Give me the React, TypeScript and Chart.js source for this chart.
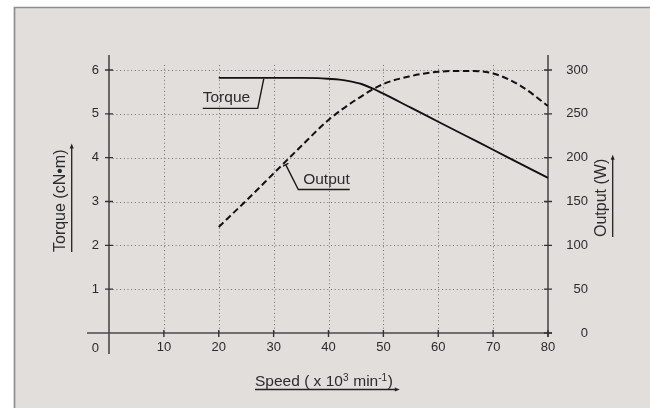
import React, { useEffect, useRef } from "react";
import { Chart, registerables } from "chart.js";

Chart.register(...registerables);

// ---- data ----
const speedTorque = [20, 25, 30, 35, 38, 40, 42, 44, 46, 48, 50, 55, 60, 65, 70, 75, 80];
const torqueValues = [5.82, 5.82, 5.82, 5.82, 5.815, 5.8, 5.78, 5.74, 5.68, 5.58, 5.46, 5.14, 4.82, 4.5, 4.18, 3.86, 3.54];
const speedOutput = [20, 25, 30, 35, 40, 45, 50, 55, 60, 65, 70, 75, 80];
const outputValues = [121, 151, 182, 213, 243, 266, 284, 293, 298, 299, 296, 282, 259];
const xTicks = [10, 20, 30, 40, 50, 60, 70, 80];
const torqueTicks = [1, 2, 3, 4, 5, 6];
const outputTicks = [0, 50, 100, 150, 200, 250, 300];

const FONT = '"Liberation Sans", Arial, Helvetica, sans-serif';
const TEXT = "#2b2b2b";
const INK = "#1a1a1a";

function arrow(ctx: CanvasRenderingContext2D, x: number, y: number, dx: number, dy: number) {
  const len = 5, hw = 2;
  const px = -dy, py = dx;
  ctx.beginPath();
  ctx.moveTo(x, y);
  ctx.lineTo(x - dx * len + px * hw, y - dy * len + py * hw);
  ctx.lineTo(x - dx * len - px * hw, y - dy * len - py * hw);
  ctx.closePath();
  ctx.fill();
}

const decor = {
  id: "decor",
  beforeDraw(chart: any) {
    const { ctx, width, height, scales } = chart;
    const xs = scales.x, ys = scales.y, y2 = scales.y2;
    const left = xs.getPixelForValue(0), right = xs.getPixelForValue(80);
    const bottom = ys.getPixelForValue(0), top = ys.getPixelForValue(6);
    ctx.save();
    ctx.fillStyle = "#ffffff";
    ctx.fillRect(0, 0, width, height);
    ctx.fillStyle = "#e2dedb";
    ctx.fillRect(14, 7, width - 14, height - 7);
    ctx.strokeStyle = "#8e8e8e";
    ctx.lineWidth = 1.7;
    ctx.beginPath();
    ctx.moveTo(14.5, height);
    ctx.lineTo(14.5, 7.5);
    ctx.lineTo(width, 7.5);
    ctx.stroke();

    // dotted grid
    ctx.strokeStyle = "#6e6e6e";
    ctx.lineWidth = 1;
    ctx.setLineDash([1, 2.7]);
    xTicks.forEach((v) => {
      if (v >= 80) return;
      const px = Math.round(xs.getPixelForValue(v)) + 0.5;
      ctx.beginPath();
      ctx.moveTo(px, top - 5);
      ctx.lineTo(px, bottom);
      ctx.stroke();
    });
    torqueTicks.forEach((v) => {
      const py = Math.round(ys.getPixelForValue(v)) + 0.5;
      ctx.beginPath();
      ctx.moveTo(left, py);
      ctx.lineTo(right, py);
      ctx.stroke();
    });
    ctx.setLineDash([]);

    // axes
    ctx.strokeStyle = "#4a4a4a";
    ctx.lineWidth = 1.6;
    ctx.beginPath();
    ctx.moveTo(left, top - 15);
    ctx.lineTo(left, bottom + 21);
    ctx.moveTo(left - 22, bottom);
    ctx.lineTo(right + 4, bottom);
    ctx.stroke();
    ctx.strokeStyle = "#6a6a6a";
    ctx.lineWidth = 2;
    ctx.beginPath();
    ctx.moveTo(right, top - 15);
    ctx.lineTo(right, bottom + 4);
    ctx.stroke();

    // tick marks
    ctx.strokeStyle = "#333";
    ctx.lineWidth = 1.4;
    ctx.beginPath();
    torqueTicks.forEach((v) => {
      const py = ys.getPixelForValue(v);
      ctx.moveTo(left - 4, py);
      ctx.lineTo(left + 4, py);
    });
    outputTicks.forEach((v) => {
      const py = y2.getPixelForValue(v);
      ctx.moveTo(right - 4, py);
      ctx.lineTo(right + 4, py);
    });
    xTicks.forEach((v) => {
      const px = xs.getPixelForValue(v);
      ctx.moveTo(px, bottom - 3);
      ctx.lineTo(px, bottom + 4);
    });
    ctx.stroke();
    ctx.restore();
  },
  afterDraw(chart: any) {
    const { ctx, scales } = chart;
    const xs = scales.x, ys = scales.y, y2 = scales.y2;
    const left = xs.getPixelForValue(0);
    const bottom = ys.getPixelForValue(0);
    ctx.save();

    // origin label
    ctx.fillStyle = TEXT;
    ctx.font = `13px ${FONT}`;
    ctx.textAlign = "right";
    ctx.textBaseline = "middle";
    ctx.fillText("0", left - 10, bottom + 15.5);

    ctx.textAlign = "left";
    ctx.textBaseline = "alphabetic";
    ctx.strokeStyle = INK;
    ctx.fillStyle = INK;
    ctx.lineWidth = 1.4;

    // Torque annotation
    {
      const ax = xs.getPixelForValue(28.2);
      const ay = ys.getPixelForValue(5.82);
      ctx.font = `15.5px ${FONT}`;
      ctx.fillStyle = TEXT;
      const tx = ax - 61;
      ctx.fillText("Torque", tx, ay + 24.5);
      ctx.beginPath();
      ctx.moveTo(tx, ay + 30.5);
      ctx.lineTo(ax - 6, ay + 30.5);
      ctx.lineTo(ax, ay + 1);
      ctx.stroke();
    }
    // Output annotation
    {
      const ax = xs.getPixelForValue(32.2);
      const ay = y2.getPixelForValue(192);
      ctx.font = `15.5px ${FONT}`;
      ctx.fillStyle = TEXT;
      ctx.fillText("Output", ax + 17.5, ay + 19.5);
      const w = ctx.measureText("Output").width;
      ctx.beginPath();
      ctx.moveTo(ax + 17.5 + w, ay + 24.8);
      ctx.lineTo(ax + 12.6, ay + 24.8);
      ctx.lineTo(ax, ay);
      ctx.moveTo(ax - 2.7, ay + 1.4);
      ctx.lineTo(ax + 2.7, ay - 1.4);
      ctx.stroke();
    }

    // axis titles
    ctx.fillStyle = TEXT;
    ctx.font = `16px ${FONT}`;
    ctx.lineWidth = 1.3;
    ctx.strokeStyle = "#222";
    // left title
    {
      const t = "Torque (cN\u2022m)";
      const w = ctx.measureText(t).width;
      const bx = 65, sy = 252;
      ctx.save();
      ctx.translate(bx, sy);
      ctx.rotate(-Math.PI / 2);
      ctx.fillText(t, 0, 0);
      ctx.restore();
      ctx.beginPath();
      ctx.moveTo(71.7, sy);
      ctx.lineTo(71.7, sy - w - 3);
      ctx.stroke();
      ctx.fillStyle = "#222";
      arrow(ctx, 71.7, sy - w - 6, 0, -1);
      ctx.fillStyle = TEXT;
    }
    // right title
    {
      const t = "Output (W)";
      const w = ctx.measureText(t).width;
      const bx = 606, sy = 237;
      ctx.save();
      ctx.translate(bx, sy);
      ctx.rotate(-Math.PI / 2);
      ctx.fillText(t, 0, 0);
      ctx.restore();
      ctx.beginPath();
      ctx.moveTo(612.7, sy);
      ctx.lineTo(612.7, sy - w - 1);
      ctx.stroke();
      ctx.fillStyle = "#222";
      arrow(ctx, 612.7, sy - w - 4, 0, -1);
      ctx.fillStyle = TEXT;
    }
    // bottom title with superscripts
    {
      const sx = 255, by = 386;
      const parts: [string, boolean][] = [
        ["Speed ( x 10", false],
        ["3", true],
        [" min", false],
        ["-1", true],
        [")", false],
      ];
      let cx = sx;
      parts.forEach(([s, sup]) => {
        ctx.font = sup ? `10px ${FONT}` : `15.5px ${FONT}`;
        ctx.fillText(s, cx, sup ? by - 5 : by);
        cx += ctx.measureText(s).width + (sup ? 0.5 : 0);
      });
      ctx.beginPath();
      ctx.moveTo(sx, 389.5);
      ctx.lineTo(cx + 3, 389.5);
      ctx.stroke();
      ctx.fillStyle = "#222";
      arrow(ctx, cx + 7, 389.5, 1, 0);
    }
    ctx.restore();
  },
};

export default function App() {
  const ref = useRef<HTMLCanvasElement | null>(null);
  useEffect(() => {
    if (!ref.current) return;
    const chart = new Chart(ref.current, {
      type: "line",
      data: {
        datasets: [
          {
            label: "Torque",
            data: speedTorque.map((s, i) => ({ x: s, y: torqueValues[i] })),
            borderColor: "#111",
            borderWidth: 1.9,
            pointRadius: 0,
            cubicInterpolationMode: "monotone",
            yAxisID: "y",
          },
          {
            label: "Output",
            data: speedOutput.map((s, i) => ({ x: s, y: outputValues[i] })),
            borderColor: "#111",
            borderWidth: 2,
            borderDash: [6.5, 3.5],
            pointRadius: 0,
            cubicInterpolationMode: "monotone",
            yAxisID: "y2",
          },
        ],
      },
      options: {
        responsive: false,
        animation: false,
        devicePixelRatio: 1,
        layout: { padding: { left: 79, right: 62, top: 70, bottom: 45 } },
        plugins: { legend: { display: false }, tooltip: { enabled: false } },
        scales: {
          x: {
            type: "linear",
            min: 0,
            max: 80,
            grid: { display: false, drawTicks: false },
            border: { display: false },
            afterFit: (s: any) => { s.height = 30; },
            ticks: {
              stepSize: 10,
              padding: 7,
              color: TEXT,
              font: { family: FONT, size: 13 },
              maxRotation: 0,
              callback: (v: any) => (xTicks.includes(Number(v)) ? String(v) : ""),
            },
          },
          y: {
            position: "left",
            min: 0,
            max: 6,
            grid: { display: false, drawTicks: false },
            border: { display: false },
            afterFit: (s: any) => { s.width = 30; },
            ticks: {
              stepSize: 1,
              padding: 10,
              color: TEXT,
              font: { family: FONT, size: 13 },
              callback: (v: any) => (torqueTicks.includes(Number(v)) ? String(v) : ""),
            },
          },
          y2: {
            position: "right",
            min: 0,
            max: 300,
            grid: { display: false, drawTicks: false },
            border: { display: false },
            afterFit: (s: any) => { s.width = 40; },
            ticks: {
              stepSize: 50,
              padding: 9,
              crossAlign: "far",
              color: TEXT,
              font: { family: FONT, size: 13 },
              callback: (v: any) => (outputTicks.includes(Number(v)) ? String(v) : ""),
            },
          },
        },
      } as any,
      plugins: [decor],
    });
    return () => chart.destroy();
  }, []);
  return (
    <div style={{ position: "absolute", left: 0, top: 0, width: 650, height: 408 }}>
      <canvas ref={ref} width={650} height={408} />
    </div>
  );
}
